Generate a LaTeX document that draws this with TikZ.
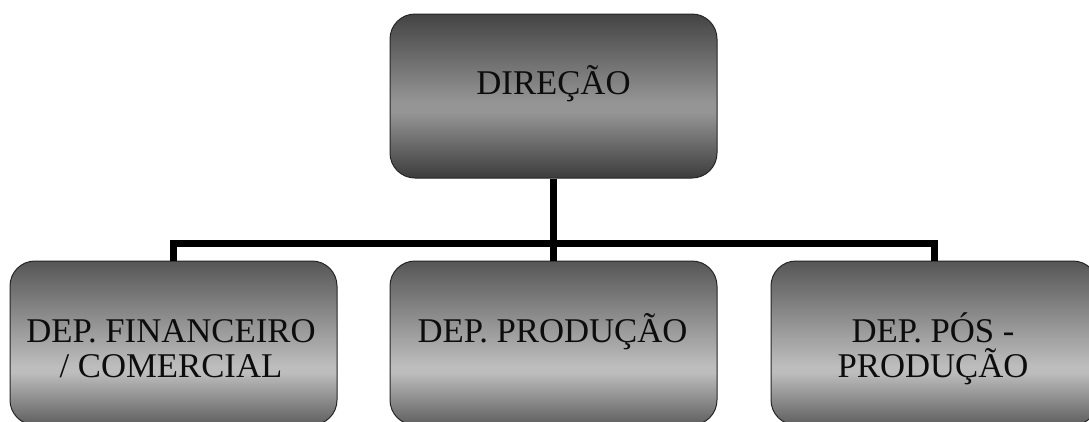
\documentclass[tikz,border=0pt]{standalone}
\usepackage{fontspec}
\setmainfont{Liberation Serif}
\usetikzlibrary{calc}

% vertical gray shadings (path spans 25bp..75bp, 0bp is the bottom)
\definecolor{topT}{HTML}{444444}
\definecolor{topM}{HTML}{959595}
\definecolor{topB}{HTML}{3C3C3C}
\definecolor{depT}{HTML}{565656}
\definecolor{depM}{HTML}{BDBDBD}
\definecolor{depB}{HTML}{5E5E5E}
\pgfdeclareverticalshading{dirshade}{100bp}{color(0bp)=(topB); color(25bp)=(topB); color(45bp)=(topM); color(48bp)=(topM); color(75bp)=(topT); color(100bp)=(topT)}
\pgfdeclareverticalshading{depshade}{100bp}{color(0bp)=(depB); color(25bp)=(depB); color(41bp)=(depM); color(43bp)=(depM); color(75bp)=(depT); color(100bp)=(depT)}

\begin{document}
\begin{tikzpicture}[x=1pt,y=-1pt,
  orgbox/.style={draw=black!85, line width=1pt, rounded corners=25pt,
    minimum width=327pt, minimum height=164pt, inner sep=0pt},
  dirbox/.style={orgbox, shading=dirshade},
  depbox/.style={orgbox, shading=depshade},
  lbl/.style={font=\fontsize{34.7}{35}\selectfont, text=black!95, align=center,
    anchor=base, inner sep=0pt},
  conn/.style={line width=7pt, line join=miter, draw=black}]
\useasboundingbox (0,0) rectangle (1089,421);
\clip (0,0) rectangle (1089,421);

% boxes
\node[dirbox] (dir)  at (553.5,96)  {};
\node[depbox] (fin)  at (173.5,343) {};
\node[depbox] (prod) at (553.5,343) {};
\node[depbox] (pos)  at (934.5,343) {};

% labels (base anchor sits on the last line)
\node[lbl] (dirt)  at (553.5,94)  {DIREÇÃO};
\node[lbl] (fint)  at (171,377)   {DEP. FINANCEIRO\\/ COMERCIAL};
\node[lbl] (prodt) at (552.5,342) {DEP. PRODUÇÃO};
\node[lbl] (post)  at (933,377)   {DEP. PÓS -\\PRODUÇÃO};

% connectors
\coordinate (bus) at (553.5,243);
\draw[conn] (dir.south) -- (prod.north);
\draw[conn] (fin.north) -- (fin.north |- bus) -- (pos.north |- bus) -- (pos.north);
\end{tikzpicture}
\end{document}
